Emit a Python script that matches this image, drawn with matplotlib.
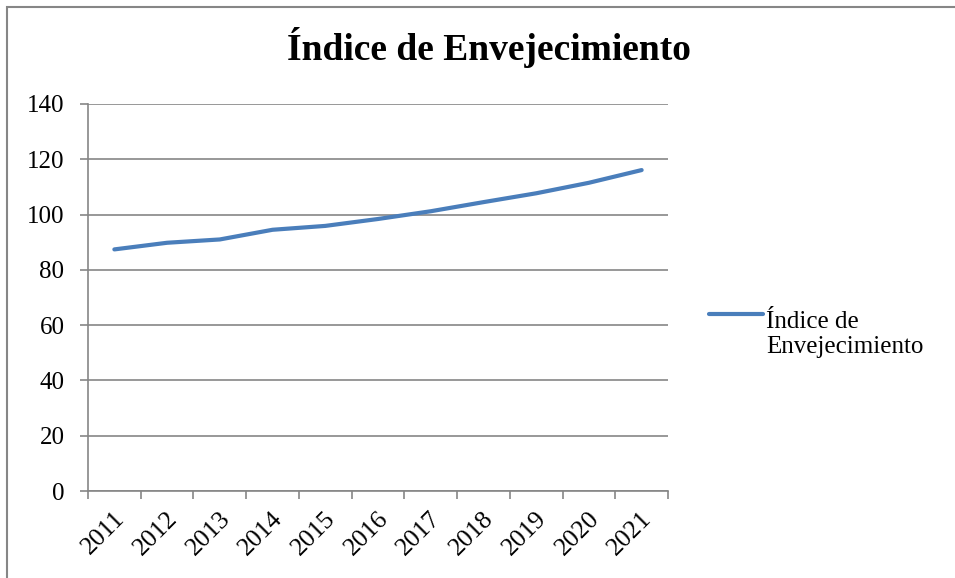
import matplotlib
matplotlib.use("Agg")
import matplotlib.pyplot as plt
from matplotlib.patches import Rectangle
from matplotlib.lines import Line2D
from matplotlib.transforms import ScaledTranslation

years = ["2011", "2012", "2013", "2014", "2015", "2016", "2017", "2018", "2019", "2020", "2021"]
indice = [87.4, 89.8, 91.0, 94.5, 95.9, 98.4, 101.2, 104.5, 107.7, 111.5, 116.1]
series_name = "Índice de\nEnvejecimiento"
title = "Índice de Envejecimiento"

plt.rcParams['font.family'] = ['Liberation Serif', 'DejaVu Serif']

W, H = 955, 578
fig = plt.figure(figsize=(W/100, H/100), dpi=100)
ax = fig.add_axes([88/W, 1-491/H, (668-88)/W, (491-104)/H])

grid_c = "#868686"
line_c = "#4A7EBB"
x = list(range(len(years)))
ax.plot(x, indice, color=line_c, linewidth=3.0, solid_capstyle="round", zorder=3)

ax.set_xlim(-0.5, len(years) - 0.5)
ax.set_ylim(0, 140)
ax.set_yticks(range(0, 141, 20))
ax.yaxis.grid(True, color=grid_c, linewidth=1.2)
ax.set_axisbelow(True)

ax.set_xticks([i - 0.5 for i in range(len(years) + 1)])
ax.set_xticklabels([])
ax.set_xticks(x, minor=True)
ax.set_xticklabels(years, minor=True, rotation=45, ha="right", rotation_mode="anchor",
                   fontsize=18.5)
ax.tick_params(axis="x", which="minor", length=0, pad=12)
ax.tick_params(axis="x", which="major", length=6, color=grid_c, width=1.2, direction="out")
ax.tick_params(axis="y", length=6, color=grid_c, width=1.2, labelsize=18, pad=11)
offset = ScaledTranslation(-1/100, 0, fig.dpi_scale_trans)
for lbl in ax.get_xticklabels(minor=True):
    lbl.set_transform(lbl.get_transform() + offset)

for s in ["top", "right"]:
    ax.spines[s].set_visible(False)
for s in ["left", "bottom"]:
    ax.spines[s].set_color(grid_c)
    ax.spines[s].set_linewidth(1.2)

fig.text(488.5/W, 1-48/H, title, ha="center", va="center", fontsize=27, fontweight="bold")

# legend
fig.add_artist(Line2D([709/W, 763/W], [1-314/H, 1-314/H], transform=fig.transFigure,
                      color=line_c, linewidth=3.0, solid_capstyle="round"))
fig.text(766/W, 1-353/H, series_name, ha="left", va="baseline", fontsize=18,
         linespacing=1.2)

fig.patches.append(Rectangle((7/W, -0.05), 1.0, 1-7/H + 0.05, transform=fig.transFigure,
                             fill=False, edgecolor=grid_c, linewidth=1.5))

fig.savefig("out.png", dpi=100)
